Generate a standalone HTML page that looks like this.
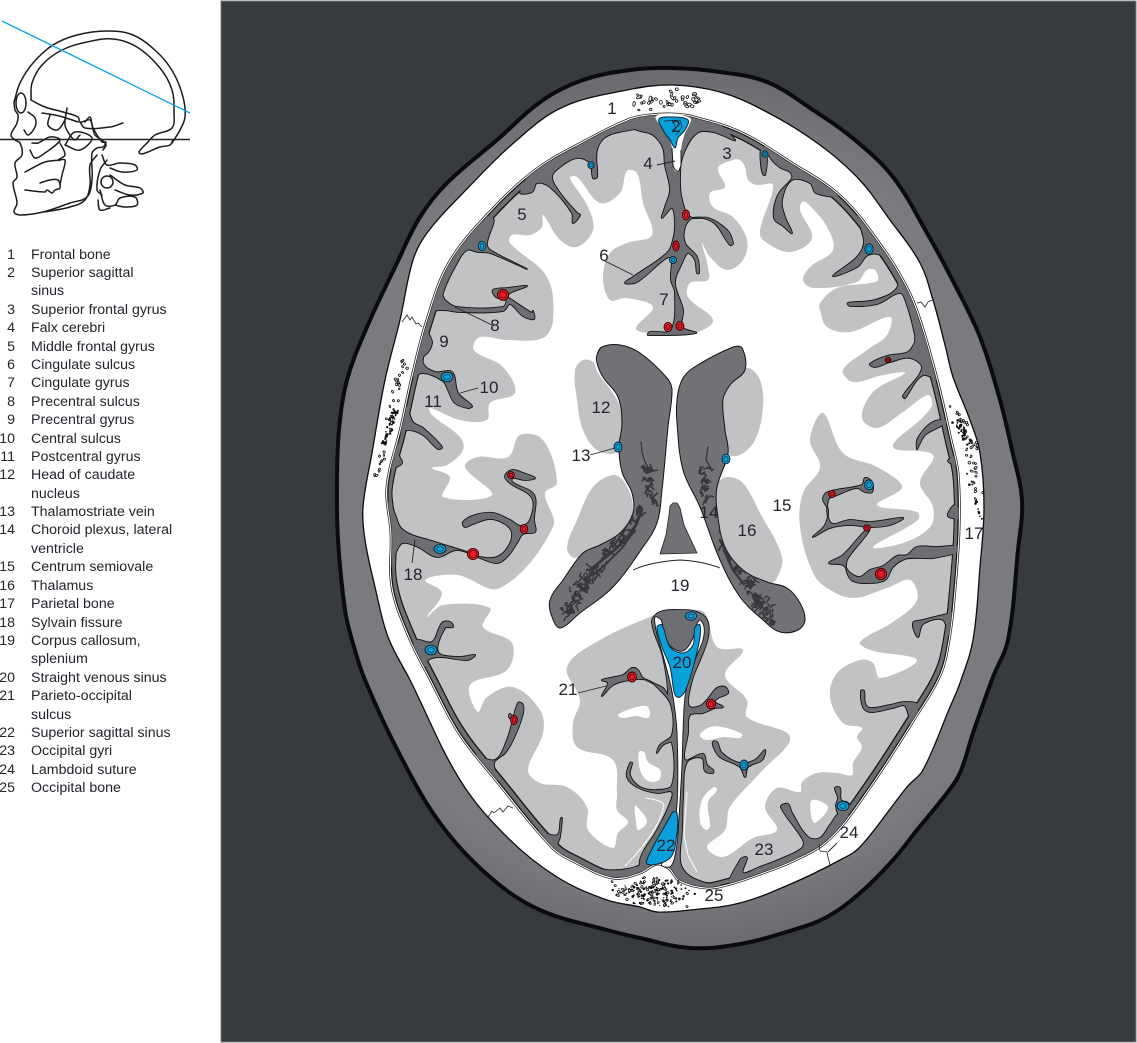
<!DOCTYPE html>
<html><head><meta charset="utf-8"><title>Axial brain section</title>
<style>
html,body{margin:0;padding:0;background:#fff;width:1137px;height:1043px;overflow:hidden}
svg{display:block}
text{font-family:"Liberation Sans",sans-serif;fill:#23242c}
.l{font-size:14.2px}
.n{font-size:17px;text-anchor:middle}
.r{text-anchor:end}
.sk{fill:none;stroke:#1c1c1c;stroke-width:1.5;stroke-linejoin:round;stroke-linecap:round}
.ld{fill:none;stroke:#222;stroke-width:.9}
.b ellipse{fill:#0aa0dc;stroke:#10202c;stroke-width:.9}
.b ellipse+ellipse{fill:none;stroke:#10323f;stroke-width:.7}
.d ellipse{fill:#ea1c2a;stroke:#300;stroke-width:.9}
.d ellipse+ellipse{fill:none;stroke:#400;stroke-width:.7}
</style></head><body>
<svg id="root" width="1137" height="1043" viewBox="0 0 1137 1043" xmlns="http://www.w3.org/2000/svg">
<defs>
<filter id="e4" filterUnits="userSpaceOnUse" x="0" y="0" width="1137" height="1043" color-interpolation-filters="sRGB"><feMorphology operator="erode" radius="3.6"/><feGaussianBlur stdDeviation="1"/><feComponentTransfer><feFuncA type="linear" slope="8" intercept="-3.5"/></feComponentTransfer></filter>
<filter id="e5" filterUnits="userSpaceOnUse" x="0" y="0" width="1137" height="1043" color-interpolation-filters="sRGB"><feMorphology operator="erode" radius="4.5"/><feGaussianBlur stdDeviation="1"/><feComponentTransfer><feFuncA type="linear" slope="8" intercept="-3.5"/></feComponentTransfer></filter>
<radialGradient id="hg" gradientUnits="userSpaceOnUse" cx="680" cy="510" r="470"><stop offset=".8" stop-color="#7a7b7e"/><stop offset="1" stop-color="#626366"/></radialGradient>

<polygon id="H1" points="672,68 720,72 767,82 813,110 855,140 893,177 927,233 955,285 980,337 1000,400 1012,450 1022,500 1018,550 1008,640 993,677 973,733 960,773 947,793 917,830 893,860 860,893 827,917 793,930 740,944 690,948 640,938 607,930 540,910 490,877 440,823 400,755 365,680 352,640 345,610 338,540 337,480 339,430 347,380 367,327 397,263 420,217 447,183 497,140 543,100 583,80 630,70"/>
<polygon id="H2" points="672,85 720,92 763,110 813,140 857,177 890,220 920,263 933,300 945,345 953,377 970,420 980,453 984,507 980,567 973,640 960,683 950,707 923,770 907,787 860,847 840,860 793,883 740,903 690,910 657,912 640,907 607,900 557,877 507,837 460,780 410,680 388,637 375,587 365,540 363,507 372,453 385,380 400,320 413,260 427,233 463,193 517,140 563,107 627,90"/>
<polygon id="B" points="672,115 690,117 740,133 790,163 840,197 883,250 907,290 920,323 937,383 950,440 957,473 958,530 953,600 948,640 940,673 917,713 860,800 827,840 793,860 760,873 730,883 707,887 680,880 670,868 657,863 640,872 613,877 573,860 553,847 497,780 460,733 430,677 410,637 393,587 392,533 388,487 402,427 413,377 427,323 450,263 493,210 537,170 583,143 630,120 650,116"/>
<clipPath id="cb"><use href="#B"/></clipPath>
<mask id="m" maskUnits="userSpaceOnUse" x="0" y="0" width="1137" height="1043"><use href="#B" fill="#fff" filter="url(#e4)"/></mask>

<g id="SUL">
<polygon points="620,122 637,130 653,135 663,148 665,165 670,190 665,207 662,218 672,208 675,223 673,240 667,253 633,277 625,283 637,282 670,257 671,280 675,293 671,330 650,332 648,335 696,333 682,327 683,310 675,283 682,263 688,253 695,260 697,273 699,273 697,257 685,243 685,227 693,218 713,222 730,245 733,243 727,230 708,218 690,217 682,200 680,177 683,155 697,133 713,132 735,140 700,112 650,112"/>
<polygon points="640,126 607,136 597,150 597,177 593,178 590,163 577,158 560,167 552,177 560,193 577,213 580,215 573,223 572,213 550,187 537,183 532,192 520,192 548,150 610,112"/>
<polygon points="493,218 487,243 490,250 527,269 490,253 478,252 467,250 457,263 443,293 445,300 457,307 503,307 506,300 496,297 493,290 508,288 527,286 510,293 508,297 512,300 532,313 533,311 534,319 523,316 510,304 503,311 460,312 442,310 434,312 428,330 432,343 425,355 408,360 415,320 440,265 470,222"/>
<polygon points="426,345 423,363 435,372 452,372 458,393 472,406 468,408 455,403 448,390 443,381 423,373 408,378 408,360"/>
<polygon points="405,405 413,422 423,428 442,447 438,449 423,435 408,430 400,435 398,453 402,463 393,468 384,470 395,425"/>
<polygon points="382,495 393,510 403,530 435,542 467,552 480,557 497,557 508,547 512,533 505,524 490,519 473,524 465,527 463,522 475,515 493,513 510,520 521,526 530,520 532,498 510,483 505,476 512,470 523,473 535,478 525,480 513,478 512,482 534,495 534,520 535,532 523,534 517,543 507,557 497,563 480,558 457,550 437,557 418,547 403,543 397,550 388,575 380,520"/>
<polygon points="416,640 432,642 442,623 450,622 453,627 445,628 438,652 457,657 475,655 467,660 440,657 428,660 424,668 414,650"/>
<polygon points="474,755 495,760 507,740 518,703 523,705 522,717 513,740 505,753 494,763 498,780 482,772"/>
<polygon points="509,717 515,722 516,721 510,714"/>
<polygon points="537,831 557,835 561,818 562,818 560,837 558,845 573,858 590,866 607,870 627,869 643,863 653,848 640,880 607,884 570,868 530,836"/>
<polygon points="652,622 660,612 680,610 697,612 707,620 708,637 700,660 693,677 688,700 690,707 700,706 707,700 717,688 725,687 728,693 718,698 715,702 723,707 715,708 703,713 690,715 688,733 685,760 703,754 707,765 713,770 713,773 705,771 702,758 687,762 683,797 682,830 680,860 685,872 697,880 717,885 745,885 690,895 660,880 645,875 640,860 657,830 668,808 672,792 657,793 637,787 627,777 630,763 632,763 630,775 640,787 657,790 672,785 672,743 663,745 657,753 660,745 672,735 671,705 660,690 647,680 630,680 613,685 602,696 608,683 602,680 623,675 632,668 638,670 643,678 663,688 668,695 663,657"/>
<polygon points="730,885 740,860 745,857 747,858 743,873 760,867 783,858 802,848 803,840 781,807 788,804 792,813 808,837 820,838 830,825 840,813 850,818 835,848 800,868 760,884"/>
<polygon points="835,788 840,788 841,800 848,803 851,810 840,815 836,806 838,798"/>
<polygon points="861,691 864,691 865,703 870,708 890,705 905,702 918,705 912,728 905,706 893,708 870,712 863,707"/>
<polygon points="913,623 923,620 947,614 956,612 950,640 943,620 923,624 918,637"/>
<polygon points="962,546 937,547 917,547 907,555 897,556 883,566 870,570 860,577 850,573 843,565 829,563 843,555 866,530 869,531 848,558 846,566 848,575 853,581 867,583 885,580 893,567 905,559 920,558 933,558 962,551"/>
<polygon points="813,537 825,525 828,510 823,499 828,492 862,485 865,478 872,482 872,492 865,492 857,488 837,495 828,500 831,523 850,520 870,522 903,518 890,525 870,527 850,525 830,528"/>
<polygon points="870,364 887,356 908,352 917,340 926,336 932,355 944,382 925,375 917,380 905,398 903,396 922,368 910,358 890,362 875,367"/>
<polygon points="917,449 918,438 933,422 952,420 937,428 925,435 919,445"/>
<polygon points="948,461 960,455 960,465"/>
<polygon points="955,505 948,516 962,518"/>
<polygon points="765,146 772,160 781,168 790,172 792,178 778,195 774,218 783,226 792,233 785,217 782,200 792,180 810,183 816,193 838,195 803,158"/>
<polygon points="761,150 766,156 767,160 765,175 763,174 761,165"/>
<polygon points="858,216 864,242 857,257 833,276 857,267 868,255 880,255 893,270 897,288 875,300 848,303 850,306 877,304 900,293 907,305 915,335 916,345 928,342 908,285 884,240"/>
<polygon points="713,742 717,742 722,753 740,763 755,760 765,750 762,760 748,767 745,777 740,767 720,757 714,748"/>
</g>
<polygon id="LV" points="597,355 602,347 620,345 640,353 667,378 672,390 668,427 662,490 657,523 643,547 613,587 580,613 560,628 552,617 550,600 563,580 583,553 600,545 620,533 633,513 632,493 622,472 619,447 622,423 618,397 603,377 597,363"/>
<polygon id="RV" points="677,400 682,380 693,368 733,347 742,348 745,370 730,385 723,400 725,430 728,453 717,487 717,510 725,547 743,570 767,582 787,588 800,603 805,620 798,630 780,632 763,620 740,597 720,560 700,507 683,470 677,423"/>
<clipPath id="cv"><use href="#LV"/><use href="#RV"/></clipPath>
</defs>

<rect width="1137" height="1043" fill="#fff"/>
<rect x="221" y="1" width="915" height="1041" fill="#373a3f" stroke="#77787b" stroke-width="1"/>

<!-- head, bone -->
<use href="#H1" fill="url(#hg)" stroke="#0b0b0d" stroke-width="4"/>
<use href="#H2" fill="#fff" stroke="#0b0b0d" stroke-width="1.3"/>

<!-- brain rim -->
<use href="#B" fill="#111" stroke="#111" stroke-width="4.8"/>
<use href="#B" fill="#fff" stroke="#fff" stroke-width="3.4"/>
<use href="#B" fill="#6d6e71" stroke="#111" stroke-width="1.2"/>
<use href="#B" fill="#1a1a1a" filter="url(#e4)"/>
<use href="#B" fill="#c1c2c4" filter="url(#e5)"/>

<!-- white matter -->
<polygon fill="#fff" points="733,160 718,168 725,187 710,193 713,207 733,217 747,240 743,260 727,270 710,257 702,243 708,267 708,280 690,283 688,297 713,320 697,332 647,333 636,328 653,307 627,298 610,300 603,277 610,253 627,243 652,235 643,203 637,173 627,171 620,193 600,203 577,177 570,178 588,207 593,230 577,247 560,240 543,215 542,227 530,235 512,235 510,243 547,277 553,320 543,338 507,340 480,337 473,347 477,353 503,367 515,393 490,403 487,420 460,420 430,408 432,415 460,437 463,450 447,465 432,468 450,477 443,497 492,495 465,467 477,457 508,457 520,435 543,440 557,483 545,493 553,527 500,588 457,575 425,580 442,593 427,617 443,605 490,608 483,627 512,643 507,670 470,685 478,712 487,697 513,687 540,710 543,733 528,770 540,783 567,787 587,807 588,830 613,848 618,833 628,822 617,810 617,793 613,760 577,747 573,723 580,700 567,667 600,640 652,616 668,610 690,610 705,613 717,647 743,650 725,675 747,700 747,717 790,737 760,773 730,807 725,830 707,847 723,857 753,838 777,830 765,807 777,788 800,792 802,782 817,773 837,773 852,775 853,763 862,747 857,737 862,728 843,723 830,697 837,673 860,660 873,663 880,678 917,660 870,650 860,642 893,622 917,600 910,580 887,588 853,598 827,588 813,573 800,527 803,493 820,467 810,440 823,413 843,453 877,467 902,487 877,505 917,512 918,520 873,547 903,543 930,527 933,507 920,483 933,455 893,447 923,417 932,405 928,395 903,412 877,428 862,418 873,392 905,373 883,375 853,382 843,370 867,350 887,335 890,317 850,332 827,327 820,310 820,303 837,288 870,283 878,280 875,270 867,270 857,282 813,288 803,280 810,267 833,250 827,227 807,203 802,202 800,210 812,238 790,252 763,240 760,230 773,185 757,185 748,180 745,167 740,160"/>

<!-- occipital white streaks -->
<g fill="#fff">
<polygon points="618,715 630,709 646,706 650,712 648,718 636,716 622,718"/>
<polygon points="639,752 644,752 648,762 660,770 659,780 648,781 640,770"/>
<polygon points="635,806 640,810 647,822 638,830 636,822"/>
<polygon points="700,735 710,727 722,727 742,734 740,738 724,737 706,740"/>
<polygon points="702,800 714,787 717,790 708,802 710,826 706,830 700,822"/>
<polygon points="812,800 828,807 815,823 811,815"/>
</g>
<g fill="none" stroke="#fff" stroke-width="1">
<path d="M645,798 Q662,800 664,805 Q660,830 625,866"/>
<path d="M687,792 L684,835 L688,855 L697,872"/>
</g>

<!-- deep grey nuclei -->
<g fill="#c1c2c4">
<polygon points="575,370 583,360 593,362 598,373 613,393 620,407 622,427 617,452 597,450 583,430 577,400"/>
<polygon points="613,475 625,483 633,507 627,530 600,547 575,558 567,548 577,520 593,487"/>
<polygon points="748,368 760,380 763,407 755,440 740,455 727,453 723,407 733,377"/>
<polygon points="728,477 743,483 760,513 782,557 777,578 770,583 743,570 723,547 717,507 718,483"/>
</g>

<!-- sulci -->
<g mask="url(#m)"><use href="#SUL" fill="#111" stroke="#111" stroke-width="1.8" stroke-linejoin="round"/></g>
<g clip-path="url(#cb)"><use href="#SUL" fill="#6d6e71"/></g>

<!-- falx slit, sinus -->
<polygon points="656,116 690,118 684,136 681,150 681,165 679,171 675,171 673,165 672,148 668,136" fill="#fff"/>
<path d="M672,148 L673,165 Q675,172 679,171 L681,165 L681,150" fill="none" stroke="#111" stroke-width=".9"/>
<polygon points="659,119 673,117 688,120 685,130 678,138 675,148 670,140 663,130" fill="#0aa0dc" stroke="#0c2a38" stroke-width="1" stroke-linejoin="round"/>
<path d="M664,121 L680,120 L682,127 L676,135 M672,121 Q676,124 675,132" fill="none" stroke="#0c2a38" stroke-width=".7"/>

<!-- midline white and blue sinuses -->
<polygon points="655,617 661,620 664,632 670,646 683,651 693,638 697,624 700,620 704,627 703,640 697,655 690,675 685,697 683,733 682,765 678,833 676,850 671,866 662,866 663,860 671,838 677,805 677,733 673,697 667,670 660,645 656,630" fill="#fff" stroke="#111" stroke-width=".9" stroke-linejoin="round"/>
<polygon points="657,627 662,625 670,647 683,653 693,645 695,627 700,625 699,643 687,687 680,697 675,695 670,667 662,647" fill="#0aa0dc" stroke="#0c2a38" stroke-width="1" stroke-linejoin="round"/>
<polygon points="673,812 677,813 677,833 670,858 647,864 653,847 670,817" fill="#0aa0dc" stroke="#0c2a38" stroke-width="1" stroke-linejoin="round"/>

<!-- ventricles -->
<use href="#LV" fill="#717275" stroke="#111" stroke-width="1"/>
<use href="#RV" fill="#717275" stroke="#111" stroke-width="1"/>
<polygon class="raw" points="670,506 673,503 677,503 680,508 684,525 697,553 660,554 666,535 669,515" fill="#717275" stroke="#222" stroke-width=".8" stroke-linejoin="round"/>
<path d="M633,570 Q650,562 680,560 Q702,561 720,568" class="ld"/>

<!-- choroid plexus -->
<g clip-path="url(#cv)"><g id="plx" fill="none" stroke="#36383b" stroke-linecap="round" stroke-linejoin="round">
<path stroke-width="1.3" d="M641,442 L642,452 L645,462 L648,467"/>
<path stroke-width="2.8" stroke-dasharray="7 1.5 3 1" d="M642,509 L636,525 L625,540 L612,552 L600,562 L590,570"/>
<path stroke-width="2" stroke-dasharray="6 1.5" d="M635,530 L622,548 L604,566 L596,573 M625,530 L612,548 M630,520 L618,540"/>
<path stroke-width="1.3" d="M708,447 L706,460 L711,468"/>
<path stroke-width="2.6" stroke-dasharray="6 1.5 2 1" d="M720,530 L725,545 L735,562 L745,572 M724,550 L733,570 L742,582 M720,540 L730,560"/>
</g></g>

<!-- veins -->
<g class="b">
<g><ellipse cx="591" cy="165" rx="3.2" ry="3.6"/><ellipse cx="591" cy="165" rx="1.4" ry="1.7"/></g>
<g><ellipse cx="482" cy="246" rx="3.8" ry="4.8"/><ellipse cx="482" cy="246" rx="1.8" ry="2.6"/></g>
<g><ellipse cx="447" cy="377" rx="6" ry="4.8"/><ellipse cx="447" cy="377" rx="3.4" ry="2.4"/></g>
<g><ellipse cx="431" cy="650" rx="6" ry="4.8"/><ellipse cx="431" cy="650" rx="3.4" ry="2.4"/></g>
<g><ellipse cx="440" cy="549" rx="6" ry="4.4"/><ellipse cx="440" cy="549" rx="3.4" ry="2.2"/></g>
<g><ellipse cx="618" cy="447" rx="4" ry="5"/><ellipse cx="618" cy="447" rx="2" ry="2.8"/></g>
<g><ellipse cx="726" cy="459" rx="4" ry="4.8"/><ellipse cx="726" cy="459" rx="2" ry="2.6"/></g>
<g><ellipse cx="869" cy="249" rx="4.2" ry="5.2"/><ellipse cx="869" cy="249" rx="2.2" ry="3"/></g>
<g><ellipse cx="869" cy="485" rx="4.4" ry="5"/><ellipse cx="869" cy="485" rx="2.2" ry="2.8"/></g>
<g><ellipse cx="765" cy="154" rx="3" ry="3.2"/><ellipse cx="765" cy="154" rx="1.3" ry="1.5"/></g>
<g><ellipse cx="691" cy="616" rx="5.6" ry="4.2"/><ellipse cx="691" cy="616" rx="3" ry="2"/></g>
<g><ellipse cx="673" cy="260" rx="3.5" ry="3.5"/><ellipse cx="673" cy="260" rx="1.5" ry="1.5"/></g>
<g><ellipse cx="744" cy="765" rx="4" ry="5"/><ellipse cx="744" cy="765" rx="2" ry="2.8"/></g>
<g><ellipse cx="843" cy="806" rx="6" ry="4.6"/><ellipse cx="843" cy="806" rx="3.2" ry="2.4"/></g>
</g>
<g class="d">
<g><ellipse cx="503" cy="295" rx="5.6" ry="5.4"/><ellipse cx="503" cy="295" rx="3.4" ry="3.2"/></g>
<g><ellipse cx="686" cy="215" rx="3.6" ry="5"/><ellipse cx="686" cy="215" rx="1.8" ry="2.6"/></g>
<g><ellipse cx="676" cy="246" rx="3.2" ry="5"/><ellipse cx="676" cy="246" rx="1.3" ry="2.4"/></g>
<g><ellipse cx="668" cy="327" rx="4" ry="4.6"/><ellipse cx="668" cy="327" rx="2" ry="2.4"/></g>
<g><ellipse cx="680" cy="326" rx="4" ry="4.4"/><ellipse cx="680" cy="326" rx="2" ry="2.2"/></g>
<g><ellipse cx="473" cy="554" rx="5.6" ry="5.6"/><ellipse cx="473" cy="554" rx="3.6" ry="3.6"/></g>
<g><ellipse cx="524" cy="529" rx="3.8" ry="4.6"/><ellipse cx="524" cy="529" rx="1.8" ry="2.4"/></g>
<g><ellipse cx="511" cy="475" rx="3.4" ry="3.4"/><ellipse cx="511" cy="475" rx="1.6" ry="1.6"/></g>
<g><ellipse cx="514" cy="720" rx="3.4" ry="4.6"/><ellipse cx="514" cy="720" rx="1.6" ry="2.4"/></g>
<g><ellipse cx="632" cy="677" rx="4.4" ry="5"/><ellipse cx="632" cy="677" rx="2.4" ry="2.8"/></g>
<g><ellipse cx="711" cy="704" rx="4.6" ry="4.8"/><ellipse cx="711" cy="704" rx="2.6" ry="2.6"/></g>
<g><ellipse cx="881" cy="574" rx="5.6" ry="5.6"/><ellipse cx="881" cy="574" rx="3.6" ry="3.6"/></g>
<g><ellipse cx="832" cy="494" rx="3.4" ry="3.6"/><ellipse cx="832" cy="494" rx="1.5" ry="1.7"/></g>
<g><ellipse cx="867" cy="528" rx="3.4" ry="3.2"/><ellipse cx="867" cy="528" rx="1.5" ry="1.4"/></g>
<g><ellipse cx="888" cy="360" rx="2.8" ry="2.8" style="fill:#a81c28"/><ellipse cx="888" cy="360" rx="1.2" ry="1.2"/></g>
</g>

<!-- bone texture -->
<g id="bone"></g>

<!-- sutures -->
<g class="ld" style="stroke-width:.8">
<polyline class="raw" points="402,322 407,315 410,320 412,317 416,324 418,323 422,327"/>
<polyline class="raw" points="917,303 921,302 925,307 928,302 932,300"/>
<polyline class="raw" points="488,817 492,811 494,813 500,808 503,812 508,806 513,808"/>
<polyline class="raw" points="819,844 820,851 827,852 828,857 830,865"/>
</g>

<!-- leaders -->
<g class="ld">
<line x1="657" y1="165" x2="675" y2="161"/>
<line x1="603" y1="260" x2="633" y2="275"/>
<line x1="492" y1="325" x2="455" y2="307"/>
<line x1="478" y1="388" x2="460" y2="393"/>
<line x1="590" y1="455" x2="615" y2="448"/>
<line x1="412" y1="563" x2="415" y2="540"/>
<line x1="578" y1="693" x2="606" y2="686"/>
<line x1="837" y1="843" x2="828" y2="852"/>
</g>

<!-- diagram labels -->
<g>
<text x="612" y="114" class="n">1</text>
<text x="676" y="132" class="n">2</text>
<text x="727" y="159" class="n">3</text>
<text x="648" y="169" class="n">4</text>
<text x="522" y="220" class="n">5</text>
<text x="604" y="261" class="n">6</text>
<text x="664" y="305" class="n">7</text>
<text x="495" y="331" class="n">8</text>
<text x="444" y="347" class="n">9</text>
<text x="489" y="393" class="n">10</text>
<text x="433" y="407" class="n">11</text>
<text x="601" y="413" class="n">12</text>
<text x="581" y="461" class="n">13</text>
<text x="709" y="518" class="n">14</text>
<text x="782" y="511" class="n">15</text>
<text x="747" y="536" class="n">16</text>
<text x="974" y="539" class="n">17</text>
<text x="413" y="580" class="n">18</text>
<text x="680" y="591" class="n">19</text>
<text x="682" y="668" class="n">20</text>
<text x="568" y="695" class="n">21</text>
<text x="666" y="851" class="n">22</text>
<text x="764" y="855" class="n">23</text>
<text x="849" y="838" class="n">24</text>
<text x="714" y="901" class="n">25</text>
</g>

<!-- skull sketch -->
<g class="sk">
<polyline points="14,102 20,83 33,63 53,45 77,35 107,31 133,35 157,52 173,72 183,97 185,117 180,130 172,143"/>
<polyline points="31,100 32,83 42,65 62,50 87,42 113,39 137,47 160,68 172,90 174,113 172,128 155,135 147,143 139,152 142,154 160,147 170,145 173,140"/>
<polyline points="14,102 15,110 18,115 17,123 11,135 15,140 20,143 22,155 15,163 17,177 13,183 17,203 14,212 20,215 43,212 70,203 87,197 92,180 92,153 97,148 103,147 106,142 102,142 93,128 90,120 80,122 78,117 63,112 45,107 31,100"/>
<ellipse cx="21" cy="103" rx="5" ry="10"/>
<polyline points="28,112 35,118 35,127 28,135 24,130"/>
<polyline points="42,113 55,115 66,118 78,122"/>
<polyline points="50,115 48,125 55,130 60,128 66,118"/>
<polyline points="67,108 65,125 70,135 75,140 80,135"/>
<polyline points="80,122 85,128 110,127 123,123"/>
<polyline points="85,122 90,117 92,125 95,135 102,140 106,145 103,150"/>
<polyline points="97,155 90,165 90,185 85,200 70,207 45,212"/>
<polyline points="30,150 35,158 45,153 60,140 50,137 38,143 32,143"/>
<polyline points="60,143 65,155 58,160 65,160 62,175 60,185"/>
<polyline points="65,145 80,150 92,138 75,132 65,145"/>
<polyline points="25,172 45,162 60,160"/>
<polyline points="40,183 50,180 58,180 60,188 55,190 52,193 47,190 45,192 25,190"/>
<polyline points="102,155 107,165 120,163 135,165 137,170 122,172 110,168"/>
<polyline points="107,160 100,170 97,190 102,195"/>
<ellipse cx="107" cy="182" rx="6" ry="6"/>
<polyline points="110,175 125,185 140,188 143,193 130,195 115,190"/>
<polyline points="100,190 105,205 115,205 120,198 135,197 137,205 125,207 115,205"/>
<polyline points="98,200 100,210 110,208"/>
</g>
<line x1="0" y1="139.5" x2="190" y2="139.5" stroke="#222" stroke-width="1.6"/>
<line x1="2" y1="21" x2="190" y2="113" stroke="#0ea5e0" stroke-width="1.3"/>

<!-- legend -->
<g>
<text x="15" y="259" class="l r">1</text><text x="31" y="259" class="l">Frontal bone</text>
<text x="15" y="277" class="l r">2</text><text x="31" y="277" class="l">Superior sagittal</text>
<text x="31" y="295" class="l">sinus</text>
<text x="15" y="314" class="l r">3</text><text x="31" y="314" class="l">Superior frontal gyrus</text>
<text x="15" y="332" class="l r">4</text><text x="31" y="332" class="l">Falx cerebri</text>
<text x="15" y="351" class="l r">5</text><text x="31" y="351" class="l">Middle frontal gyrus</text>
<text x="15" y="369" class="l r">6</text><text x="31" y="369" class="l">Cingulate sulcus</text>
<text x="15" y="387" class="l r">7</text><text x="31" y="387" class="l">Cingulate gyrus</text>
<text x="15" y="406" class="l r">8</text><text x="31" y="406" class="l">Precentral sulcus</text>
<text x="15" y="424" class="l r">9</text><text x="31" y="424" class="l">Precentral gyrus</text>
<text x="15" y="443" class="l r">10</text><text x="31" y="443" class="l">Central sulcus</text>
<text x="15" y="461" class="l r">11</text><text x="31" y="461" class="l">Postcentral gyrus</text>
<text x="15" y="479" class="l r">12</text><text x="31" y="479" class="l">Head of caudate</text>
<text x="31" y="498" class="l">nucleus</text>
<text x="15" y="516" class="l r">13</text><text x="31" y="516" class="l">Thalamostriate vein</text>
<text x="15" y="534" class="l r">14</text><text x="31" y="534" class="l">Choroid plexus, lateral</text>
<text x="31" y="553" class="l">ventricle</text>
<text x="15" y="571" class="l r">15</text><text x="31" y="571" class="l">Centrum semiovale</text>
<text x="15" y="590" class="l r">16</text><text x="31" y="590" class="l">Thalamus</text>
<text x="15" y="608" class="l r">17</text><text x="31" y="608" class="l">Parietal bone</text>
<text x="15" y="627" class="l r">18</text><text x="31" y="627" class="l">Sylvain fissure</text>
<text x="15" y="645" class="l r">19</text><text x="31" y="645" class="l">Corpus callosum,</text>
<text x="31" y="663" class="l">splenium</text>
<text x="15" y="682" class="l r">20</text><text x="31" y="682" class="l">Straight venous sinus</text>
<text x="15" y="700" class="l r">21</text><text x="31" y="700" class="l">Parieto-occipital</text>
<text x="31" y="719" class="l">sulcus</text>
<text x="15" y="737" class="l r">22</text><text x="31" y="737" class="l">Superior sagittal sinus</text>
<text x="15" y="755" class="l r">23</text><text x="31" y="755" class="l">Occipital gyri</text>
<text x="15" y="774" class="l r">24</text><text x="31" y="774" class="l">Lambdoid suture</text>
<text x="15" y="792" class="l r">25</text><text x="31" y="792" class="l">Occipital bone</text>
</g>
</svg>
<script>
(function(){
var NS="http://www.w3.org/2000/svg",k=.36;
function pts(s){var a=s.trim().split(/[\s,]+/).map(Number),r=[];for(var i=0;i<a.length;i+=2)r.push([a[i],a[i+1]]);return r;}
function d(a,b){return Math.hypot(a[0]-b[0],a[1]-b[1])||.001;}
function smooth(p,closed){
 var n=p.length,T=[];
 for(var i=0;i<n;i++){
  var a=closed?p[(i-1+n)%n]:p[Math.max(i-1,0)],b=closed?p[(i+1)%n]:p[Math.min(i+1,n-1)],c=p[i];
  var l=d(a,b),s=l/(d(a,c)+d(c,b));
  T.push([(b[0]-a[0])/l,(b[1]-a[1])/l,s]);
 }
 var o="M"+p[0][0]+","+p[0][1],m=closed?n:n-1;
 for(var j=0;j<m;j++){
  var q=p[j],r=p[(j+1)%n],L=d(q,r)*k,t=T[j],u=T[(j+1)%n];
  o+="C"+(q[0]+t[0]*L*t[2]).toFixed(1)+","+(q[1]+t[1]*L*t[2]).toFixed(1)+" "+(r[0]-u[0]*L*u[2]).toFixed(1)+","+(r[1]-u[1]*L*u[2]).toFixed(1)+" "+r[0]+","+r[1];
 }
 return o+(closed?"Z":"");
}
var els=document.querySelectorAll("polygon,polyline");
for(var e=0;e<els.length;e++){
 var el=els[e];
 if(el.getAttribute("class")=="raw")continue;
 var np=document.createElementNS(NS,"path");
 for(var x=0;x<el.attributes.length;x++){var at=el.attributes[x];if(at.name!="points")np.setAttribute(at.name,at.value);}
 np.setAttribute("d",smooth(pts(el.getAttribute("points")),el.tagName.toLowerCase()=="polygon"));
 el.parentNode.replaceChild(np,el);
}
var seed=12345;function R(){seed=(seed*16807)%2147483647;return seed/2147483647;}
var bone=document.getElementById("bone"),plx=document.getElementById("plx");
function ring(x,y,rx,ry){var c=document.createElementNS(NS,"ellipse");c.setAttribute("cx",x.toFixed(1));c.setAttribute("cy",y.toFixed(1));c.setAttribute("rx",rx.toFixed(1));c.setAttribute("ry",ry.toFixed(1));c.setAttribute("fill","#fff");c.setAttribute("stroke","#111");c.setAttribute("stroke-width",".8");c.setAttribute("transform","rotate("+Math.round(R()*180)+" "+x.toFixed(1)+" "+y.toFixed(1)+")");bone.appendChild(c);}
function dot(x,y,r){var c=document.createElementNS(NS,"circle");c.setAttribute("cx",x.toFixed(1));c.setAttribute("cy",y.toFixed(1));c.setAttribute("r",r.toFixed(1));c.setAttribute("fill","#111");bone.appendChild(c);}
function along(a,b,sp,n,f){for(var i=0;i<n;i++){var t=R(),s=(R()+R()-1)*sp,l=d(a,b);f(a[0]+(b[0]-a[0])*t-(b[1]-a[1])/l*s,a[1]+(b[1]-a[1])*t+(b[0]-a[0])/l*s);}}
var rg=function(x,y){ring(x,y,1.1+R()*1.5,.8+R()*.9);},sr=function(x,y){ring(x,y,.8+R()*.7,.7+R()*.5);},dt=function(x,y){dot(x,y,.6+R()*.7);};
for(var i=0;i<46;i++){var x=632+R()*70,y=100+(R()+R()-1)*11-(x-667)*.05;rg(x,y);}
along([405,360],[388,420],6,24,sr);along([396,410],[384,445],4,60,dt);along([385,450],[373,487],4,12,sr);
along([952,405],[976,450],7,24,sr);along([956,420],[970,445],5,45,dt);along([968,448],[983,510],5,18,sr);along([966,470],[982,520],3,14,dt);
for(i=0;i<190;i++){x=652+(R()+R()-1)*46;y=893+(R()+R()-1)*17;var top=(x<657?877-(x-613)*.32:866+(x-657)*.45)+3,bot=908-(x<640?(640-x)*.55:(x>690?(x-690)*1.5:0));if(y<top||y>bot)continue;if(R()<.3)sr(x,y);else dt(x,y);}
function net(a,b,sp,n,wd){for(var i=0;i<n;i++){var t=R(),s=(R()+R()-1)*sp,l=d(a,b),X=a[0]+(b[0]-a[0])*t-(b[1]-a[1])/l*s,Y=a[1]+(b[1]-a[1])*t+(b[0]-a[0])/l*s,o="M"+X.toFixed(1)+","+Y.toFixed(1);for(var j=0;j<3;j++){X+=(R()-.5)*8;Y+=(R()-.5)*8;o+="L"+X.toFixed(1)+","+Y.toFixed(1);}var q=document.createElementNS(NS,"path");q.setAttribute("d",o);q.setAttribute("stroke-width",wd);plx.appendChild(q);}}
net([645,465],[652,503],6,24,1.6);net([640,510],[600,560],5,28,1.8);net([596,568],[565,612],9,64,1.4);
net([704,465],[705,503],5,20,1.5);net([722,535],[745,575],5,24,1.8);net([745,578],[772,625],8,60,1.4);
})();
</script>
</body></html>
